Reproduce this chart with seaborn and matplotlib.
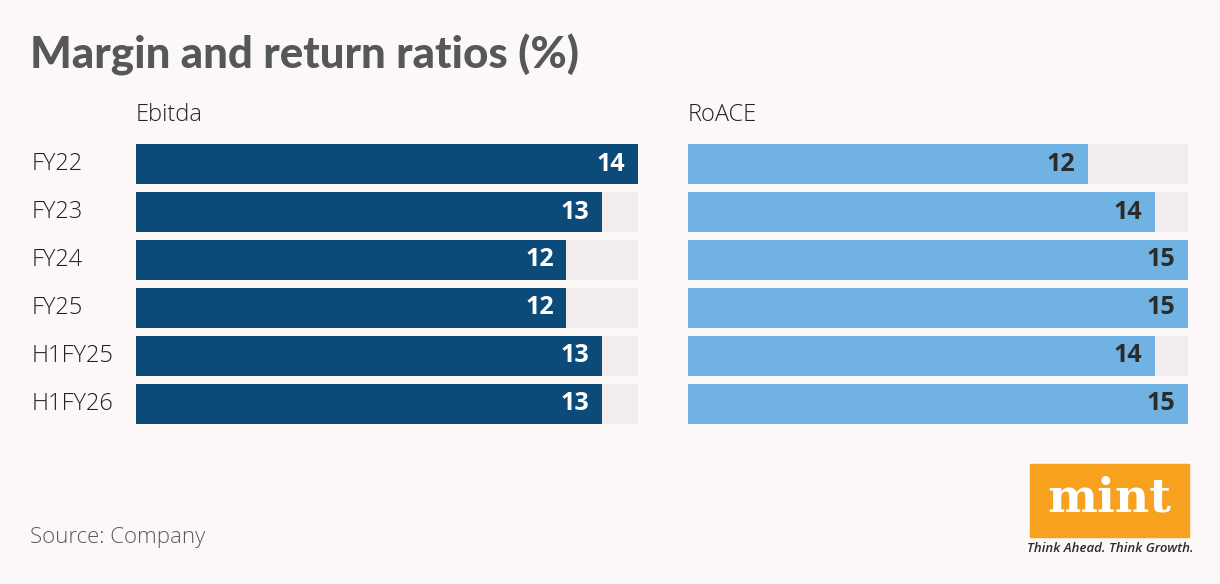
import seaborn as sns
import matplotlib.pyplot as plt
import pandas as pd
from matplotlib.patches import Rectangle

# dane
periods = ['FY22', 'FY23', 'FY24', 'FY25', 'H1FY25', 'H1FY26']
ebitda = [14, 13, 12, 12, 13, 13]
roace = [12, 14, 15, 15, 14, 15]

bg = '#fdf8f8'
track = '#f2eded'
dark_blue = '#0c4a7a'
light_blue = '#70b2e2'

sns.set_theme(style='white')
plt.rcParams['font.family'] = ['Open Sans', 'DejaVu Sans']

fig = plt.figure(figsize=(12.2, 5.84), dpi=100, facecolor=bg)

df = pd.DataFrame({'period': periods, 'Ebitda': ebitda, 'RoACE': roace})

panels = [('Ebitda', 136, 502, dark_blue, 'white'),
          ('RoACE', 688, 500, light_blue, '#2b2b2b')]
bw = 40 / 48

for col, x0, w, color, txtcol in panels:
    ax = fig.add_axes([x0 / 1220, 1 - 424 / 584, w / 1220, 280 / 584])
    ax.set_facecolor(bg)
    vmax = df[col].max()
    # szare tlo do maksimum
    sns.barplot(x=[vmax] * len(df), y=df['period'], orient='h', color=track,
                width=bw, saturation=1, linewidth=0, ax=ax)
    sns.barplot(data=df, x=col, y='period', orient='h', color=color,
                width=bw, saturation=1, linewidth=0, ax=ax)
    ax.set_xlim(0, vmax)
    ax.set_ylim(len(df) - 1 + bw / 2, -bw / 2)
    ax.set_xticks([])
    ax.set_yticks([])
    ax.set_xlabel('')
    ax.set_ylabel('')
    for s in ax.spines.values():
        s.set_visible(False)
    for i, v in enumerate(df[col]):
        ax.annotate(str(v), xy=(v, i), xytext=(-9, 0), textcoords='offset points',
                    ha='right', va='center', fontsize=18, fontweight='bold',
                    color=txtcol)
    fig.text(x0 / 1220, 1 - 115 / 584, col, fontsize=17, fontweight='light',
             color='#222222', ha='left', va='center')
    if col == 'Ebitda':
        for i, p in enumerate(periods):
            fig.text(32 / 1220, 1 - (164 + 48 * i) / 584, p, fontsize=17,
                     fontweight='light', color='#222222', ha='left', va='center')

fig.text(30 / 1220, 1 - 55 / 584, 'Margin and return ratios (%)', fontsize=31.6,
         fontweight='black', color='#555759', ha='left', va='center',
         family=['Lato', 'DejaVu Sans'])
fig.text(30 / 1220, 1 - 538 / 584, 'Source: Company', fontsize=16,
         fontweight='light', color='#5a5a5a', ha='left', va='center')

# logo mint
fig.patches.append(Rectangle((1030 / 1220, 1 - 537 / 584), 159 / 1220, 73 / 584,
                             transform=fig.transFigure, color='#f7a11f', zorder=0))
fig.text(1109.5 / 1220, 1 - 499 / 584, 'mint', fontsize=34, fontweight='bold',
         color='white', ha='center', va='center', family=['DejaVu Serif'])
fig.text(1110 / 1220, 1 - 549 / 584, 'Think Ahead. Think Growth.', fontsize=9.5,
         fontweight='semibold', style='italic', color='#2b2b2b', ha='center',
         va='center')

fig.savefig('out.png', dpi=100, facecolor=bg)
